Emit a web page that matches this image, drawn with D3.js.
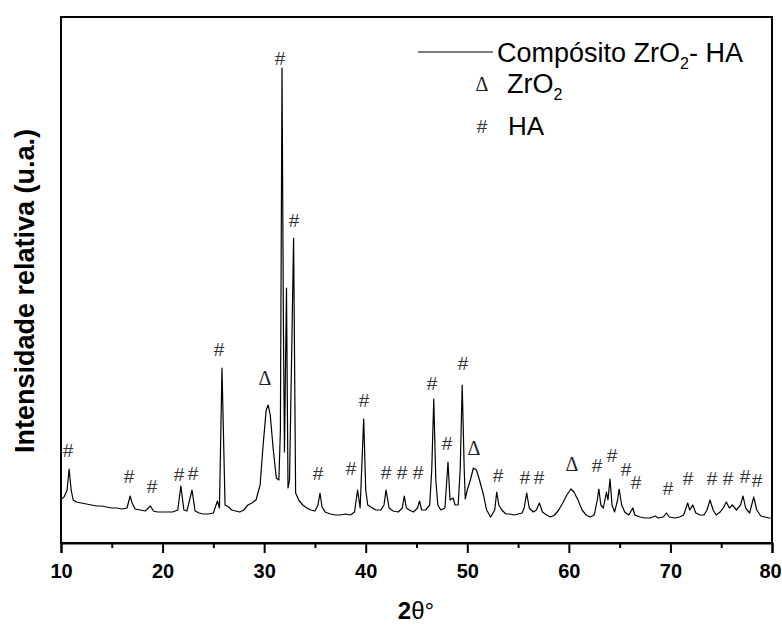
<!DOCTYPE html>
<html><head><meta charset="utf-8">
<script src="https://cdn.jsdelivr.net/npm/d3@7"></script>
<style>
body{margin:0;background:#fff;}
svg{display:block;font-family:"Liberation Sans",Arial,sans-serif;}
</style></head>
<body>
<svg id="chart" width="782" height="626"></svg>
<script>
const twoTheta = [10.0,10.3,10.6,10.8,11.0,11.2,11.5,12,12.5,13,13.5,14,14.5,15,15.5,16,16.5,16.8,17.0,17.3,17.8,18.3,18.8,19.1,19.5,20,20.5,21,21.5,21.8,22.1,22.4,22.9,23.2,23.6,24,24.5,25,25.4,25.6,25.85,26.15,26.5,26.8,27.2,27.6,28,28.4,28.8,29.2,29.6,29.9,30.2,30.4,30.6,30.9,31.2,31.45,31.6,31.76,31.9,32.0,32.2,32.35,32.5,32.9,33.1,33.4,33.8,34.2,34.6,35.0,35.3,35.5,35.7,36,36.5,37,37.5,38,38.5,38.9,39.2,39.45,39.8,40.0,40.2,40.5,41,41.5,41.8,42.0,42.3,42.7,43.2,43.6,43.8,44.0,44.3,44.7,45.1,45.3,45.5,45.9,46.3,46.5,46.7,46.9,47.1,47.4,47.8,48.1,48.3,48.6,48.8,49.1,49.3,49.5,49.7,49.8,50.0,50.3,50.6,50.9,51.2,51.6,51.9,52.3,52.7,52.9,53.1,53.4,53.8,54.2,54.6,55.0,55.4,55.6,55.85,56.1,56.5,56.8,57.1,57.4,57.8,58.2,58.6,59.0,59.4,59.8,60.2,60.5,60.9,61.3,61.7,62.1,62.5,62.8,62.95,63.15,63.4,63.7,63.85,64.05,64.25,64.5,64.8,64.95,65.2,65.5,65.9,66.3,66.5,67,67.5,68,68.5,68.8,69.3,69.6,69.9,70.4,70.9,71.3,71.7,71.9,72.2,72.5,72.9,73.3,73.6,73.9,74.2,74.5,74.9,75.2,75.5,75.8,76.1,76.5,76.9,77.15,77.4,77.8,78.2,78.5,78.9,79.3,79.7,80.0];
const intensity = [44,46,53,74,53,43,41,40,39,38,37,37,36,35,35,34,35,47,40,34,33,32,37,32,31,31,31,31,33,57,33,32,53,32,30,29,29,30,42,35,175,38,36,33,32,31,33,38,40,43,58,98,133,138,128,93,65,63,113,475,213,91,255,55,63,305,50,43,38,35,33,32,38,50,36,31,29,28,28,29,28,31,53,35,124,53,38,36,33,33,38,53,35,32,31,35,47,35,33,31,35,42,33,33,38,73,144,63,38,33,35,81,43,45,38,38,73,158,73,44,53,63,75,73,63,48,33,26,33,51,38,33,29,29,28,29,30,35,50,35,31,33,40,31,28,26,28,33,40,48,54,51,43,33,28,26,28,43,54,38,35,51,43,64,38,31,43,54,38,31,28,35,28,26,25,25,27,25,26,30,26,25,26,28,40,33,38,30,28,28,33,43,33,28,31,35,41,35,38,33,38,47,35,30,46,33,27,26,25,25];

// Peak markers: HA (#) and ZrO2 (Δ), position in 2θ and label height in a.u.
const hashX = [10.69,16.69,18.96,21.62,23.0,25.56,31.56,32.94,35.3,38.55,39.83,42.0,43.57,45.15,46.53,48.0,49.58,53.02,55.68,57.06,62.77,64.25,65.63,66.61,69.76,71.73,74.09,75.67,77.34,78.52];
const hashY = [93,67,57,69,70,194,485,323,70,75,143,71,71,71,160,100,180,68,66,66,78,88,74,61,55,65,65,65,67,63];
const deltaX = [30.08,50.66,60.31];
const deltaY = [165,95,79];

const xMajor = [10,20,30,40,50,60,70,80];
const xMinor = [15,25,35,45,55,65,75];

const svg = d3.select("#chart");
const L = 61, R = 772, T = 17, B = 543;
const x = d3.scaleLinear().domain([10,80]).range([L,R]);
const y = d3.scaleLinear().domain([0,526]).range([B,T]);

// data line
const pts = twoTheta.map((t,i)=>[t,intensity[i]]);
svg.append("path").datum(pts)
  .attr("fill","none").attr("stroke","#000").attr("stroke-width",1.2)
  .attr("stroke-linejoin","round")
  .attr("d", d3.line().x(d=>x(d[0])).y(d=>y(d[1])));

// frame
svg.append("rect").attr("x",L).attr("y",T).attr("width",R-L).attr("height",B-T)
  .attr("fill","none").attr("stroke","#000").attr("stroke-width",2);

// x axis
const ax = svg.append("g").attr("transform",`translate(0,${B})`)
  .call(d3.axisBottom(x).tickValues(xMajor).tickSize(10).tickPadding(11).tickFormat(d3.format("d")));
ax.select(".domain").attr("stroke-width",2);
ax.selectAll(".tick line").attr("stroke-width",2);
ax.selectAll("text").attr("font-size",20).attr("font-weight","bold").attr("fill","#000")
  .attr("font-family","'Liberation Sans',Arial,sans-serif");
ax.selectAll(".tick text").filter(d=>d===80).attr("dx",-2);
const axm = svg.append("g").attr("transform",`translate(0,${B})`)
  .call(d3.axisBottom(x).tickValues(xMinor).tickSize(5).tickFormat(""));
axm.select(".domain").remove();
axm.selectAll(".tick line").attr("stroke-width",2);

// axis titles
const xt = svg.append("text").attr("x",416).attr("y",619).attr("text-anchor","middle")
  .attr("font-size",24).attr("fill","#000");
xt.append("tspan").attr("font-weight","bold").text("2");
xt.append("tspan").text("θ°");

svg.append("text").attr("transform","translate(34,291) rotate(-90)")
  .attr("text-anchor","middle").attr("font-size",27).attr("font-weight","bold")
  .attr("fill","#000").text("Intensidade relativa (u.a.)");

// markers
svg.selectAll("text.hash").data(hashX).join("text").attr("class","hash")
  .attr("x",d=>x(d)).attr("y",(d,i)=>y(hashY[i]))
  .attr("text-anchor","middle").attr("dominant-baseline","central")
  .attr("font-size",19).attr("fill","#333").text("#");
svg.selectAll("text.delta").data(deltaX).join("text").attr("class","delta")
  .attr("x",d=>x(d)).attr("y",(d,i)=>y(deltaY[i]))
  .attr("text-anchor","middle").attr("dominant-baseline","central")
  .attr("font-family","'Liberation Serif','Times New Roman',serif")
  .attr("font-size",20).attr("fill","#222").text("Δ");

// legend
svg.append("line").attr("x1",418).attr("x2",493).attr("y1",52).attr("y2",52)
  .attr("stroke","#000").attr("stroke-width",1.2);
const l1 = svg.append("text").attr("x",497).attr("y",62).attr("font-size",27).attr("fill","#000");
l1.append("tspan").text("Compósito ZrO");
l1.append("tspan").attr("font-size",16).attr("dy",7).text("2");
l1.append("tspan").attr("dy",-7).text("- HA");
svg.append("text").attr("x",482).attr("y",84).attr("text-anchor","middle")
  .attr("dominant-baseline","central")
  .attr("font-family","'Liberation Serif','Times New Roman',serif")
  .attr("font-size",20).attr("fill","#222").text("Δ");
const l2 = svg.append("text").attr("x",507).attr("y",93).attr("font-size",27).attr("fill","#000");
l2.append("tspan").text("ZrO");
l2.append("tspan").attr("font-size",16).attr("dy",7).text("2");
svg.append("text").attr("x",482).attr("y",126).attr("text-anchor","middle")
  .attr("dominant-baseline","central").attr("font-size",19).attr("fill","#333").text("#");
svg.append("text").attr("x",508).attr("y",135).attr("font-size",26).attr("fill","#000").text("HA");
</script>
</body></html>
